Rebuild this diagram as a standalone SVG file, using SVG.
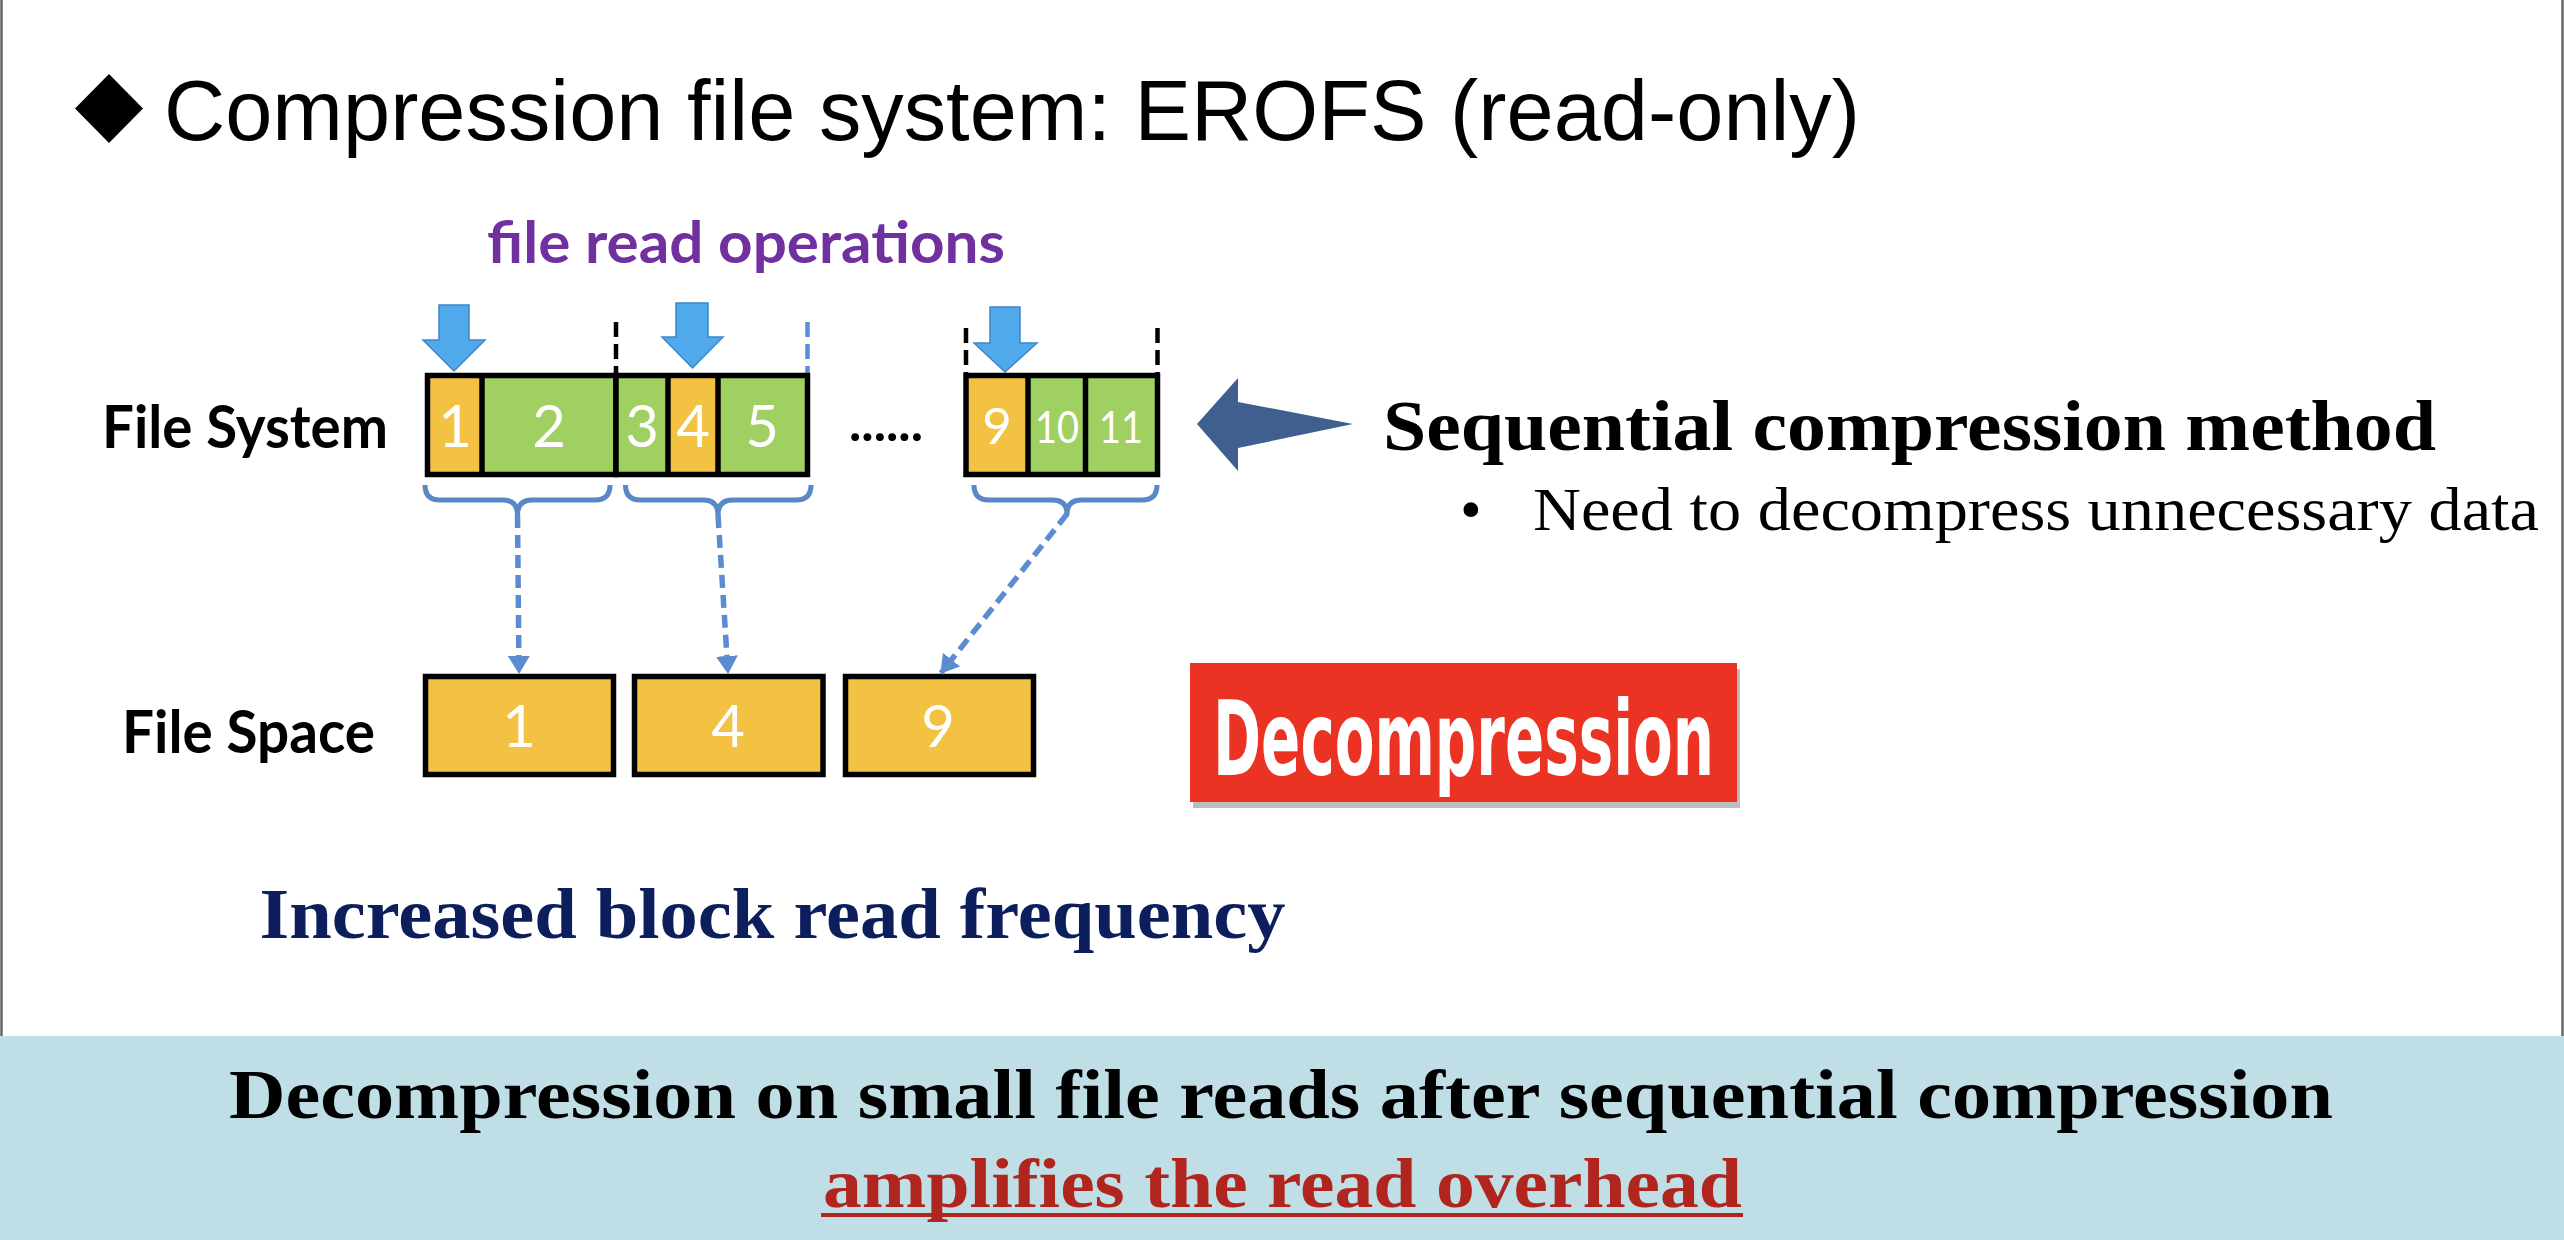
<svg xmlns="http://www.w3.org/2000/svg" width="2564" height="1240" viewBox="0 0 2564 1240">
<style>
.title{font-family:"Liberation Sans",Arial,sans-serif;font-size:86px;fill:#000}
.cal{font-family:Lato,"Open Sans",sans-serif;font-weight:700}
.dig{font-family:Lato,"Open Sans",sans-serif;fill:#fff;text-anchor:middle}
.ser{font-family:"Liberation Serif","Times New Roman",serif}
.cell{stroke:none}
.yel{fill:#F4C242}
.grn{fill:#A0CF62}
.outline{fill:none;stroke:#000;stroke-width:5.5}
.div{stroke:#000;stroke-width:5.5}
.mark{stroke:#000;stroke-width:4.5;stroke-dasharray:15 7;fill:none}
.markb{stroke:#5B8ED6;stroke-width:4.5;stroke-dasharray:15 7;fill:none}
.brace{fill:none;stroke:#5A87C6;stroke-width:5;stroke-linejoin:round}
.dash{fill:none;stroke:#5B8BD0;stroke-width:5.5;stroke-dasharray:13 7}
.down{fill:#4FA9EA;stroke:#3F86C8;stroke-width:1.5}
</style>
<defs>
<marker id="ah" viewBox="0 0 18 22" refX="17" refY="11" markerWidth="18" markerHeight="22" markerUnits="userSpaceOnUse" orient="auto">
<path d="M0,0 L18,11 L0,22 z" fill="#5B8BD0"/>
</marker>
</defs>
<rect x="0" y="0" width="2564" height="1240" fill="#fff"/>
<line x1="1.5" y1="0" x2="1.5" y2="1036" stroke="#666" stroke-width="2.5"/>
<line x1="2562.5" y1="0" x2="2562.5" y2="1036" stroke="#666" stroke-width="2.5"/>
<rect id="band" x="0" y="1036" width="2564" height="204" fill="#C0DEE6"/>

<g id="title">
<polygon points="109,74 143,108.5 109,143 75,108.5" fill="#000"/>
<text class="title" x="164" y="140" textLength="1696" lengthAdjust="spacingAndGlyphs">Compression file system: EROFS (read-only)</text>
</g>

<g id="label-read-ops">
<text class="cal" x="487" y="263" font-size="58" fill="#7030A0" textLength="518" lengthAdjust="spacingAndGlyphs">file read operations</text>
</g>

<g id="read-arrows">
<polygon class="down" points="439,305 469,305 469,340 485,340 454,371 423,340 439,340"/>
<polygon class="down" points="676,303 708,303 708,337 723,337 692.5,368 662,337 676,337"/>
<polygon class="down" points="990,307 1020,307 1020,343 1037,343 1005,372 974,343 990,343"/>
</g>

<g id="label-file-system">
<text class="cal" x="102" y="448" font-size="60" fill="#000" textLength="286" lengthAdjust="spacingAndGlyphs">File System</text>
</g>
<g id="label-file-space">
<text class="cal" x="122" y="753" font-size="60" fill="#000" textLength="253" lengthAdjust="spacingAndGlyphs">File Space</text>
</g>

<g id="markers">
<line class="mark" x1="616" y1="322" x2="616" y2="373"/>
<line class="markb" x1="807.5" y1="322" x2="807.5" y2="373"/>
<line class="mark" x1="966" y1="328" x2="966" y2="373"/>
<line class="mark" x1="1157.5" y1="328" x2="1157.5" y2="373"/>
</g>

<g id="fs-block-1">
<rect class="cell yel" x="427.5" y="375.5" width="54.5" height="99"/>
<rect class="cell grn" x="482" y="375.5" width="134" height="99"/>
<line class="div" x1="482" y1="375.5" x2="482" y2="474.5"/>
<rect class="outline" x="427.5" y="375.5" width="188.5" height="99"/>
<text class="dig" x="455" y="447" font-size="58">1</text>
<text class="dig" x="549" y="447" font-size="58">2</text>
</g>

<g id="fs-block-2">
<rect class="cell grn" x="616" y="375.5" width="52" height="99"/>
<rect class="cell yel" x="668" y="375.5" width="50" height="99"/>
<rect class="cell grn" x="718" y="375.5" width="89.5" height="99"/>
<line class="div" x1="668" y1="375.5" x2="668" y2="474.5"/>
<line class="div" x1="718" y1="375.5" x2="718" y2="474.5"/>
<rect class="outline" x="616" y="375.5" width="191.5" height="99"/>
<text class="dig" x="642" y="447" font-size="58">3</text>
<text class="dig" x="693" y="447" font-size="58">4</text>
<text class="dig" x="762" y="447" font-size="58">5</text>
</g>

<g id="ellipsis">
<text class="cal" x="849" y="441" font-size="52" fill="#000" textLength="74" lengthAdjust="spacingAndGlyphs">......</text>
</g>

<g id="fs-block-3">
<rect class="cell yel" x="966" y="375.5" width="62" height="99"/>
<rect class="cell grn" x="1028" y="375.5" width="57.5" height="99"/>
<rect class="cell grn" x="1085.5" y="375.5" width="72" height="99"/>
<line class="div" x1="1028" y1="375.5" x2="1028" y2="474.5"/>
<line class="div" x1="1085.5" y1="375.5" x2="1085.5" y2="474.5"/>
<rect class="outline" x="966" y="375.5" width="191.5" height="99"/>
<text class="dig" x="997" y="444" font-size="51">9</text>
<text class="dig" x="1057" y="443" font-size="44" textLength="44" lengthAdjust="spacingAndGlyphs">10</text>
<text class="dig" x="1121" y="443" font-size="44" textLength="44" lengthAdjust="spacingAndGlyphs">11</text>
</g>

<g id="space-1">
<rect class="yel" x="425.5" y="676.5" width="188" height="98" stroke="#000" stroke-width="5.5"/>
<text class="dig" x="519" y="747" font-size="58">1</text>
</g>
<g id="space-4">
<rect class="yel" x="634.5" y="676.5" width="188.5" height="98" stroke="#000" stroke-width="5.5"/>
<text class="dig" x="728" y="747" font-size="58">4</text>
</g>
<g id="space-9">
<rect class="yel" x="845.5" y="676.5" width="188" height="98" stroke="#000" stroke-width="5.5"/>
<text class="dig" x="938" y="747" font-size="58">9</text>
</g>

<g id="connectors">
<path class="brace" d="M425,485 Q425,500 440,500 L503,500 Q517.5,500 517.5,515 Q517.5,500 532,500 L595,500 Q610,500 610,485"/>
<path class="brace" d="M625.5,485 Q625.5,500 640.5,500 L703.5,500 Q718,500 718,515 Q718,500 732.5,500 L796,500 Q811,500 811,485"/>
<path class="brace" d="M974,485 Q974,500 989,500 L1052.5,500 Q1067,500 1067,514 Q1067,500 1081.5,500 L1142,500 Q1157,500 1157,485"/>
<line class="dash" x1="517.5" y1="515" x2="519" y2="673" marker-end="url(#ah)"/>
<line class="dash" x1="718" y1="515" x2="728" y2="673" marker-end="url(#ah)"/>
<line class="dash" x1="1067" y1="514" x2="941" y2="673" marker-end="url(#ah)"/>
</g>

<g id="pointer-arrow">
<polygon points="1197,424 1238,378 1238,402 1353,424 1238,448 1238,471" fill="#3F5F8F"/>
</g>

<g id="sequential-method">
<text class="ser" x="1383" y="450" font-size="71" font-weight="700" fill="#000" textLength="1053" lengthAdjust="spacingAndGlyphs">Sequential compression method</text>
<text class="ser" x="1460" y="530" font-size="62" fill="#000">•</text>
<text class="ser" x="1533" y="530" font-size="62" fill="#000" textLength="1006" lengthAdjust="spacingAndGlyphs">Need to decompress unnecessary data</text>
</g>

<g id="decompression-box">
<rect x="1193" y="669" width="547" height="139" fill="#bdbdbd"/>
<rect x="1190" y="663" width="547" height="139" fill="#EA3323"/>
<text x="1213" y="775" font-family="'DejaVu Sans Condensed','DejaVu Sans',sans-serif" font-stretch="condensed" font-weight="700" font-size="103" fill="#fff" textLength="501" lengthAdjust="spacingAndGlyphs">Decompression</text>
</g>

<g id="increased-freq">
<text class="ser" x="259.5" y="938" font-size="71" font-weight="700" fill="#0C1F5C" textLength="1026" lengthAdjust="spacingAndGlyphs">Increased block read frequency</text>
</g>

<g id="conclusion">
<text class="ser" x="229" y="1118" font-size="70" font-weight="700" fill="#000" textLength="2104" lengthAdjust="spacingAndGlyphs">Decompression on small file reads after sequential compression</text>
<text class="ser" x="823" y="1207" font-size="70" font-weight="700" fill="#B0261E" textLength="919" lengthAdjust="spacingAndGlyphs">amplifies the read overhead</text>
<rect x="821" y="1213" width="922" height="4" fill="#B0261E"/>
</g>
</svg>
